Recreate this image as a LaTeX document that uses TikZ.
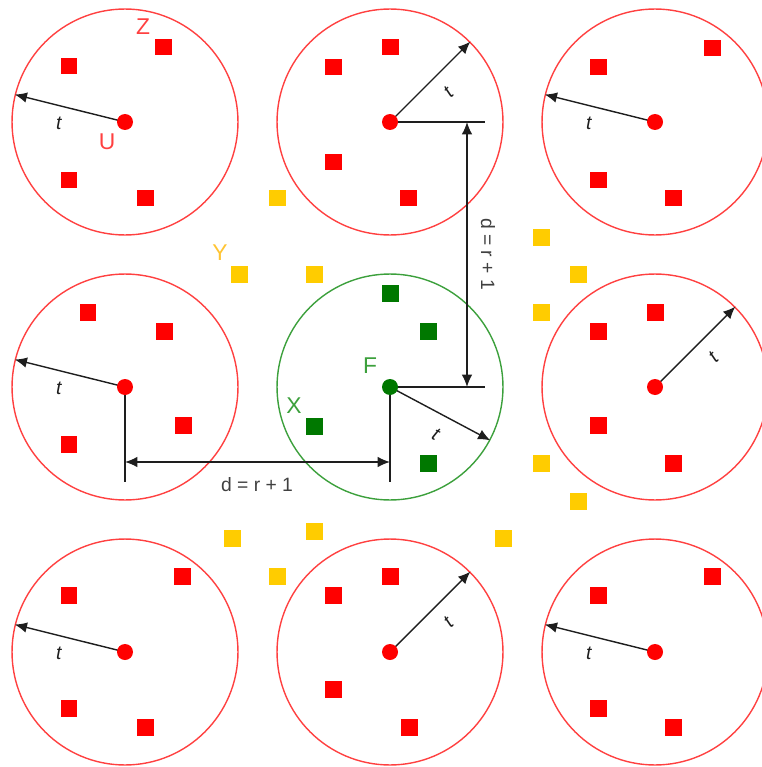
\documentclass[tikz,border=0pt]{standalone}
\usepackage{fontspec}
\setmainfont{Liberation Sans}
\usetikzlibrary{arrows.meta}

\definecolor{zonered}{RGB}{255,64,64}
\definecolor{ptred}{RGB}{255,0,0}
\definecolor{zonegreen}{RGB}{60,160,60}
\definecolor{ptgreen}{RGB}{0,120,0}
\definecolor{ptyellow}{RGB}{255,204,0}
\definecolor{lblyellow}{RGB}{255,196,50}
\definecolor{ink}{RGB}{30,30,30}

\tikzset{
  zone/.style={circle, draw=#1, line width=0.8pt, minimum size=4.52cm, inner sep=0pt},
  hub/.style={circle, fill=#1, minimum size=0.32cm, inner sep=0pt},
  pt/.style={rectangle, fill=#1, minimum size=0.34cm, inner sep=0pt},
  radarrow/.style={draw=ink, line width=0.8pt, -{Latex[length=7pt,width=6pt]}},
  dimarrow/.style={draw=ink, line width=0.8pt, {Latex[length=7pt,width=6pt]}-{Latex[length=7pt,width=6pt]}},
  dimline/.style={draw=ink, line width=0.8pt},
  rlabel/.style={font=\fontsize{11}{13}\selectfont\itshape, text=ink},
  dlabel/.style={font=\fontsize{11}{13}\selectfont, text=ink!85},
  letter/.style={font=\fontsize{13}{15}\selectfont, text=#1},
}

\begin{document}
\begin{tikzpicture}[x=0.02cm, y=-0.02cm]
\useasboundingbox (0,0) rectangle (761,767);

% zones
\foreach \n/\cx/\cy in {1/125/122, 2/390/122, 3/655/122,
                        4/125/387, 6/655/387,
                        7/125/652, 8/390/652, 9/655/652}
  \node[zone=zonered] (c\n) at (\cx,\cy) {};
\node[zone=zonegreen] (fz) at (390,387) {};

% points inside the red zones
\foreach \px/\py in {69/66, 163/47, 69/180, 145/198,
                     390/47, 333/67, 333/162, 408/198,
                     712/48, 598/67, 598/180, 673/198,
                     88/312, 164/331, 183/425, 69/444,
                     655/312, 598/331, 598/425, 673/463,
                     182/576, 69/595, 69/708, 145/727,
                     390/576, 333/595, 333/689, 409/727,
                     712/576, 598/595, 598/708, 673/727}
  \node[pt=ptred] at (\px,\py) {};

% points inside F
\foreach \px/\py in {390/293, 428/331, 314/426, 428/463}
  \node[pt=ptgreen] at (\px,\py) {};

% points between the zones
\foreach \px/\py in {277/198, 239/274, 314/274, 541/237, 578/274, 541/312,
                     541/463, 578/501, 232/538, 314/531, 277/576, 503/538}
  \node[pt=ptyellow] at (\px,\py) {};

% radii
\foreach \n in {1,3,4,7,9}
  \draw[radarrow] (c\n.center) -- (c\n.166) node[rlabel, pos=0.6, below=3pt] {t};
\foreach \n in {2,6,8}
  \draw[radarrow] (c\n.center) -- (c\n.45) node[rlabel, sloped, pos=0.55, below=4pt] {t};
\draw[radarrow] (fz.center) -- (fz.-28) node[rlabel, sloped, pos=0.55, below=4pt] {t};

% d = r + 1, horizontal
\coordinate (h4) at (125,482);
\coordinate (hf) at (390,482);
\coordinate (a4) at (125,462);
\coordinate (af) at (390,462);
\draw[dimline] (c4.center) -- (h4);
\draw[dimline] (fz.center) -- (hf);
\draw[dimarrow] (a4) -- (af);
\node[dlabel] (dh) at (257,485) {d = r + 1};

% d = r + 1, vertical
\coordinate (v2) at (485,122);
\coordinate (vf) at (485,387);
\coordinate (b2) at (467,122);
\coordinate (bf) at (467,387);
\draw[dimline] (c2.center) -- (v2);
\draw[dimline] (fz.center) -- (vf);
\draw[dimarrow] (b2) -- (bf);
\node[dlabel, rotate=-90] (dv) at (488,254) {d = r + 1};

% centres
\foreach \n in {1,2,3,4,6,7,8,9}
  \node[hub=ptred] (u\n) at (c\n.center) {};
\node[hub=ptgreen] (f) at (fz.center) {};

% letters
\node[letter=zonered] (lz) at (143,27) {Z};
\node[letter=zonered] (lu) at (107,142) {U};
\node[letter=lblyellow] (ly) at (220,253) {Y};
\node[letter=zonegreen] (lx) at (294,406) {X};
\node[letter=zonegreen] (lf) at (370,366) {F};

\end{tikzpicture}
\end{document}
